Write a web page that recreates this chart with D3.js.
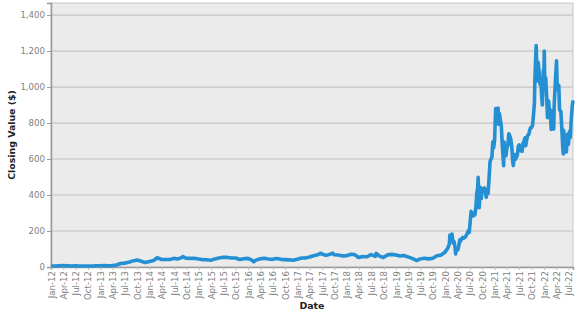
<!DOCTYPE html>
<html>
<head>
<meta charset="utf-8">
<script src="https://cdn.jsdelivr.net/npm/d3@7"></script>
<style>
  body { margin: 0; background: #fff; }
  svg { display: block; font-family: "DejaVu Sans", Verdana, sans-serif; }
</style>
</head>
<body>
<svg id="chart" width="577" height="315"></svg>
<script>
// closing values (date, value)
const dates2012to2019 = [
  "2012-01-03","2012-01-31","2012-02-29","2012-03-30","2012-04-30","2012-05-31","2012-06-29","2012-07-31","2012-08-31","2012-09-28","2012-10-31","2012-11-30","2012-12-31",
  "2013-01-31","2013-02-28","2013-03-28","2013-04-30","2013-05-31","2013-06-28","2013-07-31","2013-08-30","2013-09-30","2013-10-31","2013-11-29","2013-12-31",
  "2014-01-31","2014-02-26","2014-03-31","2014-04-30","2014-05-30","2014-06-30","2014-07-31","2014-08-29","2014-09-04","2014-09-30","2014-10-31","2014-11-28","2014-12-31",
  "2015-01-30","2015-02-27","2015-03-31","2015-04-30","2015-05-29","2015-06-30","2015-07-31","2015-08-31","2015-09-30","2015-10-30","2015-11-30","2015-12-31",
  "2016-01-29","2016-02-10","2016-02-29","2016-03-31","2016-04-29","2016-05-31","2016-06-30","2016-07-29","2016-08-31","2016-09-30","2016-10-31","2016-11-30","2016-12-30",
  "2017-01-31","2017-02-28","2017-03-31","2017-04-28","2017-05-31","2017-06-23","2017-06-30","2017-07-31","2017-08-31","2017-09-18","2017-09-29","2017-10-31","2017-11-30","2017-12-29",
  "2018-01-31","2018-02-28","2018-03-29","2018-04-30","2018-05-31","2018-06-29","2018-07-31","2018-08-07","2018-08-31","2018-09-28","2018-10-31","2018-11-30","2018-12-31",
  "2019-01-31","2019-02-28","2019-03-29","2019-04-30","2019-05-31","2019-06-03","2019-06-28","2019-07-31","2019-08-30","2019-09-30","2019-10-31","2019-11-29","2019-12-31"
];
const values2012to2019 = [
  5.6,5.8,6.7,7.4,6.6,5.9,6.3,5.6,5.7,5.9,5.6,6.8,6.8,
  7.5,7.0,7.6,10.8,19.5,21.5,26.8,33.9,38.7,31.9,25.5,30.1,
  36.3,51.5,41.7,41.5,41.4,48.0,44.7,53.9,57.8,48.5,48.2,48.9,44.5,
  40.8,40.6,37.8,45.0,50.1,53.7,53.3,49.8,49.7,41.4,46.1,48.0,
  38.3,28.6,38.4,45.9,48.1,44.5,42.5,47.1,42.5,40.8,39.5,37.9,42.7,
  50.4,50.0,55.7,62.8,68.2,76.6,72.3,64.7,71.3,77.0,68.2,66.5,61.6,62.3,
  70.9,68.6,53.2,58.6,56.9,68.6,59.6,75.9,60.3,52.9,67.5,70.1,66.6,
  61.4,63.9,56.0,47.7,37.0,35.8,44.7,48.3,45.1,48.2,63.0,66.0,83.7
];

const dates2020to2022 = [
  "2020-01-02","2020-01-10","2020-01-17","2020-01-24","2020-01-31","2020-02-04","2020-02-05","2020-02-07","2020-02-14","2020-02-19","2020-02-28",
  "2020-03-06","2020-03-13","2020-03-18","2020-03-20","2020-03-27","2020-04-03","2020-04-09","2020-04-17","2020-04-24","2020-04-30",
  "2020-05-08","2020-05-15","2020-05-22","2020-05-29","2020-06-05","2020-06-12","2020-06-19","2020-06-26","2020-07-02","2020-07-10",
  "2020-07-13","2020-07-17","2020-07-24","2020-07-31","2020-08-07","2020-08-14","2020-08-21","2020-08-28","2020-08-31","2020-09-04",
  "2020-09-08","2020-09-11","2020-09-18","2020-09-23","2020-09-30","2020-10-09","2020-10-16","2020-10-23","2020-10-30","2020-11-06",
  "2020-11-13","2020-11-20","2020-11-27","2020-12-04","2020-12-11","2020-12-18","2020-12-24","2020-12-31",
  "2021-01-08","2021-01-15","2021-01-22","2021-01-26","2021-01-29","2021-02-05","2021-02-12","2021-02-19","2021-02-26","2021-03-05",
  "2021-03-08","2021-03-12","2021-03-19","2021-03-26","2021-04-01","2021-04-09","2021-04-14","2021-04-16","2021-04-23","2021-04-30",
  "2021-05-07","2021-05-14","2021-05-19","2021-05-21","2021-05-28","2021-06-04","2021-06-11","2021-06-18","2021-06-25","2021-07-02",
  "2021-07-09","2021-07-16","2021-07-23","2021-07-30","2021-08-06","2021-08-13","2021-08-19","2021-08-27","2021-09-03","2021-09-10",
  "2021-09-17","2021-09-24","2021-10-01","2021-10-08","2021-10-15","2021-10-22","2021-10-25","2021-10-29","2021-11-04","2021-11-10",
  "2021-11-12","2021-11-19","2021-11-26","2021-12-03","2021-12-10","2021-12-14","2021-12-20","2021-12-27","2021-12-31",
  "2022-01-03","2022-01-07","2022-01-14","2022-01-21","2022-01-27","2022-02-04","2022-02-11","2022-02-18","2022-02-23","2022-02-28",
  "2022-03-04","2022-03-14","2022-03-18","2022-03-25","2022-04-04","2022-04-08","2022-04-14","2022-04-21","2022-04-26","2022-04-29",
  "2022-05-06","2022-05-13","2022-05-20","2022-05-24","2022-05-27","2022-06-03","2022-06-10","2022-06-16","2022-06-24","2022-07-01",
  "2022-07-08","2022-07-15","2022-07-22","2022-07-29","2022-08-04"
];
const values2020to2022 = [
  86.1,95.6,102.1,113.9,130.1,177.4,146.9,149.0,160.0,183.5,133.6,
  140.7,109.3,72.2,85.5,102.9,96.0,114.6,150.8,145.0,156.4,
  163.9,159.8,163.4,167.0,177.1,187.1,200.2,191.9,241.7,308.9,
  299.4,300.2,283.4,286.2,290.5,330.1,409.0,442.7,498.3,418.3,
  330.2,372.7,442.2,380.4,429.0,434.0,439.7,420.6,388.0,430.0,
  408.5,489.6,585.8,599.0,610.0,695.0,661.8,705.7,
  880.0,826.2,846.6,883.1,793.5,852.2,816.1,781.3,675.5,598.0,
  563.0,693.7,654.9,618.7,661.8,677.0,732.2,739.8,729.4,709.4,
  672.4,589.7,563.5,580.9,625.2,599.1,609.9,623.3,671.9,678.9,
  657.0,644.2,643.4,687.2,699.1,717.2,673.5,711.9,733.6,736.3,
  759.5,774.4,775.2,785.5,843.0,909.7,1024.9,1114.0,1229.9,1068.0,
  1033.4,1137.1,1081.9,1015.0,1017.0,958.5,899.9,1093.9,1056.8,
  1199.8,1027.0,1049.6,943.9,829.1,923.3,860.0,857.0,764.0,870.4,
  838.3,766.4,905.4,1010.6,1145.5,1025.5,985.0,1008.8,876.4,870.8,
  865.7,769.6,663.9,628.2,759.6,703.6,696.7,639.3,737.1,681.8,
  752.3,720.2,816.7,891.5,925.9
];

const yTicks = [0, 200, 400, 600, 800, 1000, 1200, 1400];
const yMax = 1467;

const margin = { top: 3, right: 4, bottom: 48, left: 51 },
      width = 577 - margin.left - margin.right,
      height = 315 - margin.top - margin.bottom;

const parse = d3.timeParse("%Y-%m-%d");
const data = dates2012to2019.concat(dates2020to2022).map((d, i) => ({
  date: parse(d),
  value: values2012to2019.concat(values2020to2022)[i]
}));

const svg = d3.select("#chart")
  .append("g")
  .attr("transform", `translate(${margin.left},${margin.top})`);

const x = d3.scaleTime()
  .domain([new Date(2012, 0, 1), parse("2022-08-04")])
  .range([0, width]);

const y = d3.scaleLinear()
  .domain([0, yMax])
  .range([height, 0]);

// plot background
svg.append("rect")
  .attr("width", width)
  .attr("height", height)
  .style("fill", "#ebebeb")
  .style("stroke", "#c8c8c8");

// horizontal grid
svg.selectAll(".grid")
  .data(yTicks.slice(1))
  .enter().append("line")
  .attr("x1", 0).attr("x2", width)
  .attr("y1", d => y(d)).attr("y2", d => y(d))
  .style("stroke", "#c4c4c4")
  .style("stroke-width", 1.2);

// y axis
const yAxis = svg.append("g")
  .call(d3.axisLeft(y).tickValues(yTicks).tickFormat(d3.format(",")).tickSize(4).tickPadding(2));
yAxis.select(".domain").style("stroke", "#999").style("stroke-width", 1.5);
yAxis.selectAll(".tick line").style("stroke", "#999");
yAxis.selectAll("text").style("font-size", "8.6px").style("fill", "#808080")
  .style("font-family", "'DejaVu Sans', Verdana, sans-serif");

// x axis
const quarters = d3.timeMonth.range(new Date(2012, 0, 1), new Date(2022, 7, 1), 3);
const xAxis = svg.append("g")
  .attr("transform", `translate(0,${height})`)
  .call(d3.axisBottom(x).tickValues(quarters).tickFormat(d3.timeFormat("%b-%y")).tickSize(3).tickPadding(2));
xAxis.select(".domain").style("stroke", "#999").style("stroke-width", 1.5);
xAxis.selectAll(".tick line").style("stroke", "#bbb");
xAxis.selectAll("text")
  .attr("transform", "rotate(-90)")
  .attr("x", -4)
  .attr("y", 0)
  .attr("dy", "0.35em")
  .style("text-anchor", "end")
  .style("font-size", "8.6px")
  .style("fill", "#808080")
  .style("font-family", "'DejaVu Sans', Verdana, sans-serif");

// price line
svg.append("path")
  .datum(data)
  .attr("d", d3.line().x(d => x(d.date)).y(d => y(d.value)))
  .style("fill", "none")
  .style("stroke", "#2490d3")
  .style("stroke-width", 3.6)
  .style("stroke-linejoin", "round");

// axis titles
svg.append("text")
  .attr("x", width / 2)
  .attr("y", height + 42)
  .style("text-anchor", "middle")
  .style("font-size", "9.4px")
  .style("font-weight", "bold")
  .style("fill", "#222")
  .text("Date");

svg.append("text")
  .attr("transform", `translate(${-36},${height / 2}) rotate(-90)`)
  .style("text-anchor", "middle")
  .style("font-size", "9.4px")
  .style("font-weight", "bold")
  .style("fill", "#222")
  .text("Closing Value ($)");
</script>
</body>
</html>
